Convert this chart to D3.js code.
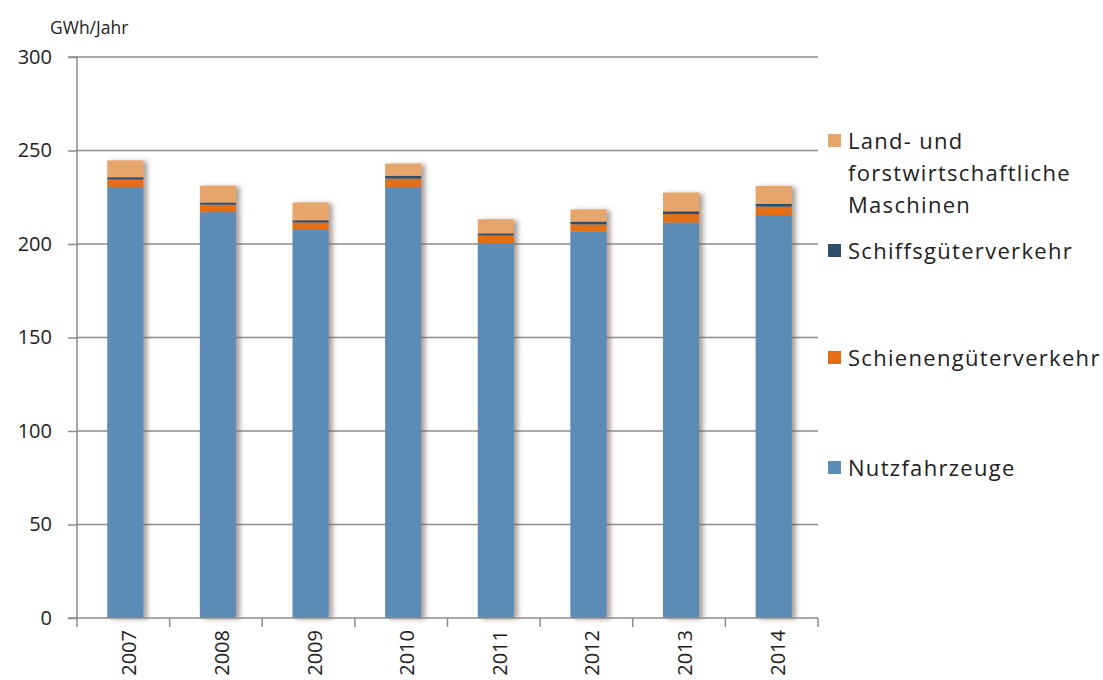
<!DOCTYPE html>
<html><head><meta charset="utf-8">
<script src="https://cdn.jsdelivr.net/npm/d3@7"></script>
<style>body{margin:0;background:#fff;} text{font-family:"Open Sans",Lato,sans-serif;}</style>
</head><body><svg id="c" width="1103" height="680"></svg>
<script>
const years = ["2007","2008","2009","2010","2011","2012","2013","2014"];
const nutzfahrzeuge = [230.5, 217, 208, 230.5, 200.5, 206.5, 211.5, 215.5];
const schienen = [4, 4, 3.5, 4.5, 4, 4, 4.5, 4.5];
const schiffs = [1.2, 1.2, 1.2, 1.5, 1.2, 1.5, 1.5, 1.5];
const land = [9, 9, 9.5, 6.5, 7.5, 6.5, 10, 9.5];
const yTicks = [0, 50, 100, 150, 200, 250, 300];
const seriesNames = ["Nutzfahrzeuge","Schienengüterverkehr","Schiffsgüterverkehr","Land- und forstwirtschaftliche Maschinen"];
const colors = ["#5b8bb6","#e36f12","#2d4f6c","#e6a56b"];

const svg = d3.select("#c");
const m = {l:77, r:818, t:57, b:618};
const x = d3.scaleBand().domain(years).range([m.l+2, m.r+2]).paddingInner(0.61).paddingOuter(0.305);
const y = d3.scaleLinear().domain([0,300]).range([m.b, m.t]);

const defs = svg.append("defs");
const f = defs.append("filter").attr("id","sh").attr("x","-20%").attr("y","-5%").attr("width","160%").attr("height","110%");
f.append("feDropShadow").attr("dx",4).attr("dy",1).attr("stdDeviation",2.5).attr("flood-color","#6e5e55").attr("flood-opacity",0.6);

// gridlines
svg.append("g").selectAll("line").data(yTicks.filter(d=>d>0)).join("line")
  .attr("x1", m.l).attr("x2", m.r).attr("y1", d=>y(d)).attr("y2", d=>y(d))
  .attr("stroke","#8c8c8c").attr("stroke-width",1.5);

// stacked bars
const rows = years.map((yr,i)=>({year:yr, a:nutzfahrzeuge[i], b:schienen[i], c:schiffs[i], d:land[i]}));
const stack = d3.stack().keys(["a","b","c","d"])(rows);
const bars = svg.append("g").selectAll("g.bar").data(years).join("g").attr("filter","url(#sh)");
bars.each(function(yr,i){
  const g = d3.select(this);
  stack.forEach((s,k)=>{
    g.append("rect").attr("x", x(yr)).attr("width", x.bandwidth())
      .attr("y", y(s[i][1])).attr("height", y(s[i][0]) - y(s[i][1]))
      .attr("fill", colors[k]);
  });
});

// y axis
const yAxis = d3.axisLeft(y).tickValues(yTicks).tickSize(9).tickPadding(16).tickFormat(d3.format("d"));
const ya = svg.append("g").attr("transform",`translate(${m.l},0)`).call(yAxis);
ya.select(".domain").attr("stroke","#8c8c8c").attr("stroke-width",1.5).attr("d",`M-9,${m.t}H0V${m.b}H-9`);
ya.selectAll(".tick line").attr("stroke","#8c8c8c").attr("stroke-width",1.5);
ya.selectAll(".tick text").attr("font-size",20).attr("fill","#222").attr("font-family","'Open Sans', sans-serif");

// x axis baseline & ticks between bands
const xa = svg.append("g");
xa.append("line").attr("x1",m.l).attr("x2",m.r).attr("y1",m.b).attr("y2",m.b).attr("stroke","#8c8c8c").attr("stroke-width",1.5);
const bounds = d3.range(years.length+1).map(i=> m.l + i*(m.r-m.l)/years.length);
xa.selectAll("line.t").data(bounds).join("line").attr("class","t")
  .attr("x1",d=>d).attr("x2",d=>d).attr("y1",m.b).attr("y2",m.b+9).attr("stroke","#8c8c8c").attr("stroke-width",1.5);
xa.selectAll("text").data(years).join("text")
  .attr("transform", d=>`translate(${x(d)+x.bandwidth()/2+11},630) rotate(-90)`)
  .attr("text-anchor","end").attr("font-size",20).attr("fill","#222").text(d=>d);

// y title
svg.append("text").attr("x",50).attr("y",34).attr("font-size",17.5).attr("fill","#222").text("GWh/Jahr");

// legend
const leg = [
  {k:3, lines:["Land- und","forstwirtschaftliche","Maschinen"], y:141},
  {k:2, lines:["Schiffsgüterverkehr"], y:251},
  {k:1, lines:["Schienengüterverkehr"], y:358},
  {k:0, lines:["Nutzfahrzeuge"], y:468}
];
const lg = svg.append("g");
leg.forEach(L=>{
  lg.append("rect").attr("x",828).attr("y",L.y-7).attr("width",13).attr("height",13).attr("fill",colors[L.k]);
  const t = lg.append("text").attr("x",848).attr("y",L.y+8).attr("font-size",22).attr("letter-spacing",1.3).attr("fill","#222");
  L.lines.forEach((s,j)=>t.append("tspan").attr("x",848).attr("dy", j?32:0).text(s));
});
</script></body></html>
